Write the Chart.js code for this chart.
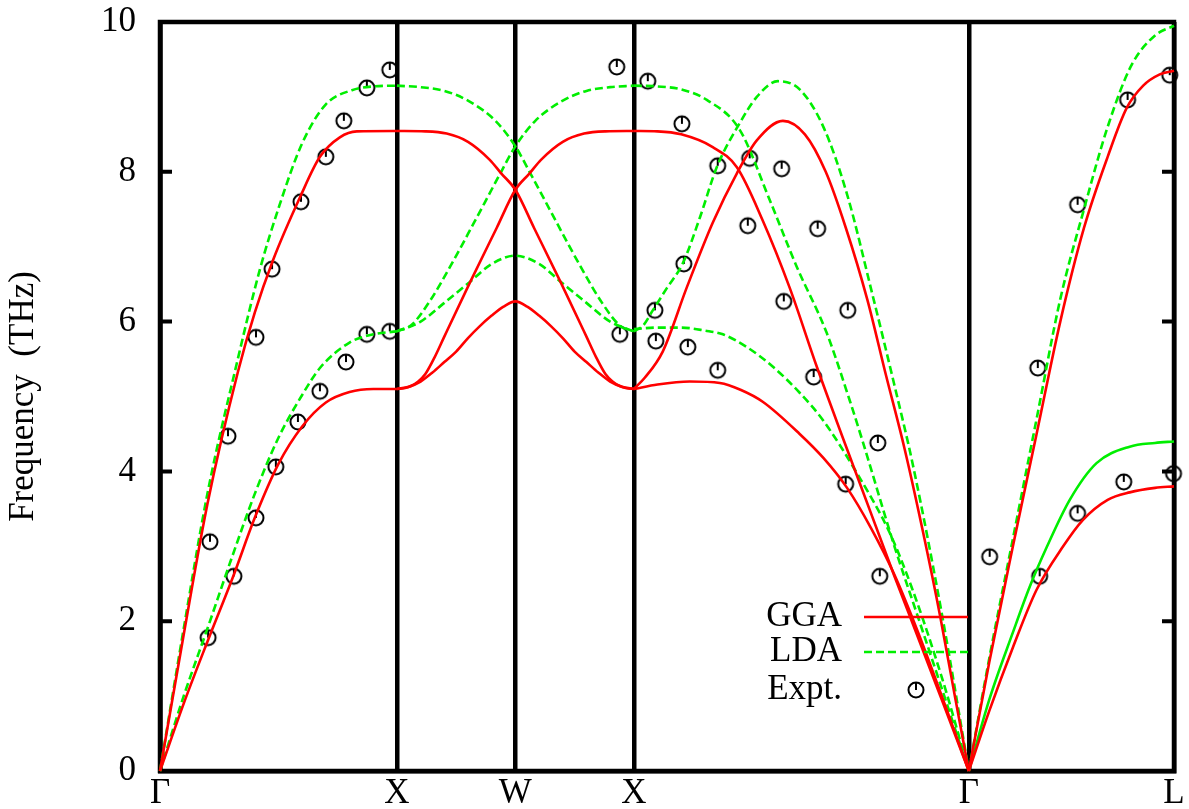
<!DOCTYPE html>
<html>
<head>
<meta charset="utf-8">
<script src="https://cdn.jsdelivr.net/npm/chart.js@4.4.0/dist/chart.umd.min.js"></script>
<style>
    html, body { margin: 0; padding: 0; background: #fff; }
    #wrap { width: 1189px; height: 809px; }
</style>
</head>
<body>
<div id="wrap"><canvas id="grafico"></canvas></div>
<script>
// pontos de alta simetria ao longo do caminho
const kPontos = [0, 1, 1.5, 2, 3.414, 4.28];
const kRotulos = ["Γ", "X", "W", "X", "Γ", "L"];
const yTicks = [0, 2, 4, 6, 8, 10];

// GGA (linha vermelha)
const ggaGX_LA = [[0,0],[0.1,1.82],[0.2,3.56],[0.329,5.33],[0.4,6.12],[0.477,6.82],[0.591,7.66],[0.675,8.2],[0.759,8.46],[0.831,8.54],[1,8.545]];
const ggaGX_TA = [[0,0],[0.1,0.9],[0.203,1.75],[0.308,2.59],[0.4,3.38],[0.5,4.1],[0.6,4.6],[0.7,4.92],[0.8,5.06],[0.9,5.1],[1,5.1]];
const ggaXWX_sobe = [[1,5.1],[1.03,5.11],[1.06,5.14],[1.09,5.2],[1.12,5.3],[1.16,5.53],[1.2,5.8],[1.308,6.52],[1.421,7.25],[1.5,7.76],[1.56,7.98],[1.608,8.16],[1.7,8.4],[1.79,8.51],[1.88,8.54],[2,8.545]];
const ggaXWX_desce = [[1,8.545],[1.12,8.54],[1.21,8.51],[1.3,8.4],[1.392,8.16],[1.44,7.98],[1.5,7.76],[1.579,7.25],[1.692,6.52],[1.8,5.8],[1.84,5.53],[1.88,5.3],[1.91,5.2],[1.94,5.14],[1.97,5.11],[2,5.1]];
const ggaXWX_TA = [[1,5.1],[1.05,5.13],[1.1,5.2],[1.15,5.32],[1.2,5.46],[1.25,5.6],[1.3,5.78],[1.35,5.94],[1.4,6.08],[1.45,6.2],[1.5,6.27],
    [1.55,6.2],[1.6,6.08],[1.65,5.94],[1.7,5.78],[1.75,5.6],[1.8,5.46],[1.85,5.32],[1.9,5.2],[1.95,5.13],[2,5.1]];
const ggaXG_a = [[2,5.1],[2.046,5.25],[2.122,5.6],[2.224,6.46],[2.333,7.32],[2.435,7.98],[2.519,8.42],[2.629,8.68],[2.722,8.5],[2.81,8.0],[2.895,7.25],[2.985,6.3],[3.063,5.3],[3.143,4.3],[3.22,3.2],[3.294,2.05],[3.355,1.0],[3.414,0]];
const ggaXG_b = [[2,8.545],[2.1,8.54],[2.2,8.5],[2.333,8.33],[2.435,8.06],[2.544,7.35],[2.658,6.45],[2.772,5.4],[2.882,4.45],[3.0,3.45],[3.1,2.6],[3.2,1.78],[3.3,0.95],[3.414,0]];
const ggaXG_c = [[2,5.1],[2.1,5.16],[2.236,5.2],[2.363,5.18],[2.45,5.09],[2.544,4.93],[2.7,4.5],[2.8,4.18],[2.9,3.78],[3.0,3.25],[3.1,2.62],[3.2,1.85],[3.3,1.0],[3.414,0]];
const ggaGL_LA = [[3.414,0],[3.5,1.45],[3.6,3.0],[3.7,4.5],[3.8,6.0],[3.9,7.25],[4.0,8.2],[4.08,8.85],[4.15,9.15],[4.22,9.3],[4.28,9.35]];
const ggaGL_TA = [[3.414,0],[3.5,0.8],[3.6,1.65],[3.7,2.42],[3.81,2.99],[3.895,3.35],[4.0,3.62],[4.093,3.72],[4.2,3.78],[4.28,3.8]];

// LDA (linha verde)
const ldaGX_LA = [[0,0],[0.1,1.9],[0.2,3.7],[0.324,5.44],[0.422,6.7],[0.504,7.55],[0.6,8.38],[0.7,8.9],[0.81,9.09],[0.9,9.14],[1,9.15]];
const ldaGX_TA = [[0,0],[0.1,1.0],[0.2,1.9],[0.3,2.82],[0.4,3.7],[0.5,4.45],[0.6,5.02],[0.675,5.38],[0.8,5.72],[0.9,5.83],[1,5.87]];
const ldaXWX_sobe = [[1,5.87],[1.06,5.95],[1.134,6.25],[1.224,6.73],[1.322,7.3],[1.435,7.97],[1.5,8.34],[1.584,8.68],[1.7,8.95],[1.8,9.08],[1.9,9.13],[2,9.15]];
const ldaXWX_desce = [[1,9.15],[1.1,9.13],[1.2,9.08],[1.3,8.95],[1.416,8.68],[1.5,8.34],[1.565,7.97],[1.678,7.3],[1.776,6.73],[1.866,6.25],[1.94,5.95],[2,5.87]];
const ldaXWX_TA = [[1,5.87],[1.1,6.0],[1.2,6.25],[1.308,6.53],[1.4,6.77],[1.5,6.88],[1.6,6.77],[1.692,6.53],[1.8,6.25],[1.9,6.0],[2,5.87]];
const ldaXG_a = [[2,5.87],[2.04,5.95],[2.08,6.15],[2.14,6.45],[2.207,6.78],[2.28,7.4],[2.35,8.06],[2.447,8.65],[2.519,9.0],[2.608,9.21],[2.7,9.1],[2.8,8.6],[2.9,7.7],[3.008,6.35],[3.1,5.15],[3.177,4.1],[3.3,2.1],[3.414,0]];
const ldaXG_b = [[2,9.15],[2.1,9.14],[2.2,9.1],[2.308,8.96],[2.447,8.56],[2.574,7.62],[2.688,6.73],[2.814,5.85],[2.911,4.95],[2.966,4.4],[3.1,3.0],[3.2,2.05],[3.3,1.1],[3.414,0]];
const ldaXG_c = [[2,5.9],[2.1,5.92],[2.2,5.92],[2.3,5.88],[2.376,5.83],[2.477,5.66],[2.586,5.4],[2.7,5.05],[2.797,4.69],[2.941,3.98],[3.08,3.18],[3.173,2.45],[3.3,1.25],[3.414,0]];
const ldaGL_LA = [[3.414,0],[3.5,1.5],[3.6,3.1],[3.7,4.7],[3.8,6.3],[3.9,7.5],[4.0,8.6],[4.1,9.42],[4.2,9.82],[4.28,9.95]];
const ldaGL_TA = [[3.414,0],[3.5,0.95],[3.6,1.85],[3.671,2.46],[3.743,2.99],[3.84,3.62],[3.953,4.11],[4.093,4.33],[4.2,4.38],[4.28,4.4]];

// experimento
const exptK = [0.203,0.211,0.287,0.312,0.405,0.405,0.473,0.489,0.582,0.595,0.675,0.700,0.785,0.776,0.873,0.873,0.970,0.970,
    1.928,2.059,1.941,2.089,2.093,2.203,2.211,2.228,2.354,2.354,2.481,2.489,2.624,2.633,2.759,2.776,2.894,2.903,3.030,3.038,
    3.502,3.705,3.713,3.873,3.873,4.068,4.084,4.278,4.262];
const exptFreq = [1.78,3.06,4.47,2.60,5.79,3.38,6.70,4.06,4.66,7.60,5.07,8.20,5.46,8.68,5.83,9.12,5.87,9.36,
    9.40,9.21,5.83,6.15,5.74,8.64,6.77,5.66,5.35,8.08,7.28,8.18,8.04,6.27,5.26,7.24,3.83,6.15,4.38,2.60,
    2.86,5.38,2.60,3.44,7.56,3.86,8.96,3.97,9.29];

const VERMELHO = "#ff0000";
const VERDE = "#00ee00";
const FONTE = "Liberation Serif";

function criarMarcador() {
    const c = document.createElement("canvas");
    c.width = 22;
    c.height = 22;
    const g = c.getContext("2d");
    g.strokeStyle = "#000";
    g.lineWidth = 2;
    g.beginPath();
    g.arc(11, 11, 7.5, 0, Math.PI * 2);
    g.stroke();
    g.beginPath();
    g.moveTo(11, 11);
    g.lineTo(11, 3.5);
    g.stroke();
    return c;
}
const marcador = criarMarcador();

function curva(dados, cor, tracejado) {
    return {
        data: dados.map(p => ({ x: p[0], y: p[1] })),
        showLine: true,
        borderColor: cor,
        borderWidth: 2.6,
        borderDash: tracejado ? [8, 4] : [],
        pointRadius: 0,
        cubicInterpolationMode: "monotone",
        fill: false,
        clip: false
    };
}

const datasets = [
    curva(ggaGX_LA, VERMELHO, false),
    curva(ggaGX_TA, VERMELHO, false),
    curva(ggaXWX_sobe, VERMELHO, false),
    curva(ggaXWX_desce, VERMELHO, false),
    curva(ggaXWX_TA, VERMELHO, false),
    curva(ggaXG_a, VERMELHO, false),
    curva(ggaXG_b, VERMELHO, false),
    curva(ggaXG_c, VERMELHO, false),
    curva(ggaGL_LA, VERMELHO, false),
    curva(ggaGL_TA, VERMELHO, false),
    curva(ldaGX_LA, VERDE, true),
    curva(ldaGX_TA, VERDE, true),
    curva(ldaXWX_sobe, VERDE, true),
    curva(ldaXWX_desce, VERDE, true),
    curva(ldaXWX_TA, VERDE, true),
    curva(ldaXG_a, VERDE, true),
    curva(ldaXG_b, VERDE, true),
    curva(ldaXG_c, VERDE, true),
    curva(ldaGL_LA, VERDE, true),
    curva(ldaGL_TA, VERDE, false),
    {
        data: exptK.map((k, i) => ({ x: k, y: exptFreq[i] })),
        showLine: false,
        pointStyle: marcador,
        pointRadius: 9,
        clip: false
    }
];

// moldura e marcas internas do eixo y
const molduraPlugin = {
    id: "moldura",
    beforeDatasetsDraw(chart) {
        const ctx = chart.ctx;
        const a = chart.chartArea;
        const y = chart.scales.y;
        ctx.save();
        ctx.strokeStyle = "#000";
        ctx.lineWidth = 4.5;
        ctx.strokeRect(a.left, a.top, a.right - a.left, a.bottom - a.top);
        ctx.lineWidth = 4;
        yTicks.forEach(v => {
            const py = y.getPixelForValue(v);
            ctx.beginPath();
            ctx.moveTo(a.left, py);
            ctx.lineTo(a.left + 12, py);
            ctx.moveTo(a.right, py);
            ctx.lineTo(a.right - 12, py);
            ctx.stroke();
        });
        ctx.restore();
    }
};

// legenda no canto inferior direito
const legendaPlugin = {
    id: "legenda",
    afterDatasetsDraw(chart) {
        const ctx = chart.ctx;
        const a = chart.chartArea;
        const xTexto = a.right - 332;
        const x0 = a.right - 310;
        const x1 = a.right - 206;
        const linhas = [
            { texto: "GGA", y: a.bottom - 154, cor: VERMELHO, dash: [] },
            { texto: "LDA", y: a.bottom - 119, cor: VERDE, dash: [8, 4] },
            { texto: "Expt.", y: a.bottom - 81, cor: null }
        ];
        ctx.save();
        ctx.font = "35px '" + FONTE + "'";
        ctx.fillStyle = "#000";
        ctx.textAlign = "right";
        ctx.textBaseline = "middle";
        linhas.forEach(l => {
            ctx.fillText(l.texto, xTexto, l.y);
            if (l.cor) {
                ctx.strokeStyle = l.cor;
                ctx.lineWidth = 2.6;
                ctx.setLineDash(l.dash);
                ctx.beginPath();
                ctx.moveTo(x0, l.y);
                ctx.lineTo(x1, l.y);
                ctx.stroke();
                ctx.setLineDash([]);
            } else {
                ctx.drawImage(marcador, (x0 + x1) / 2 - 11, l.y - 11);
            }
        });
        ctx.restore();
    }
};

new Chart(document.getElementById("grafico"), {
    type: "scatter",
    data: { datasets: datasets },
    options: {
        responsive: true,
        maintainAspectRatio: false,
        animation: false,
        layout: { padding: { left: 0, right: 15, top: 22, bottom: 0 } },
        plugins: {
            legend: { display: false },
            tooltip: { enabled: false }
        },
        scales: {
            x: {
                type: "linear",
                min: 0,
                max: 4.28,
                afterBuildTicks: s => { s.ticks = kPontos.map(v => ({ value: v })); },
                afterFit: s => {
                    s.height = 38;
                    s.paddingLeft = 0;
                    s.paddingRight = 0;
                },
                ticks: {
                    autoSkip: false,
                    maxRotation: 0,
                    padding: 2,
                    color: "#000",
                    font: { family: FONTE, size: 35 },
                    callback: (v, i) => kRotulos[i]
                },
                grid: { color: "#000", lineWidth: 4.5, drawTicks: false },
                border: { display: true, color: "#000", width: 4.5 }
            },
            y: {
                min: 0,
                max: 10,
                afterFit: s => {
                    s.width = 160;
                    s.paddingTop = 0;
                    s.paddingBottom = 0;
                },
                ticks: {
                    stepSize: 2,
                    padding: 24,
                    color: "#000",
                    font: { family: FONTE, size: 35 }
                },
                grid: { display: false, drawTicks: false },
                border: { display: true, color: "#000", width: 4.5 },
                title: {
                    display: true,
                    text: "Frequency  (THz)",
                    color: "#000",
                    font: { family: FONTE, size: 35 },
                    padding: { top: 3, bottom: 0 }
                }
            }
        }
    },
    plugins: [molduraPlugin, legendaPlugin]
});
</script>
</body>
</html>
